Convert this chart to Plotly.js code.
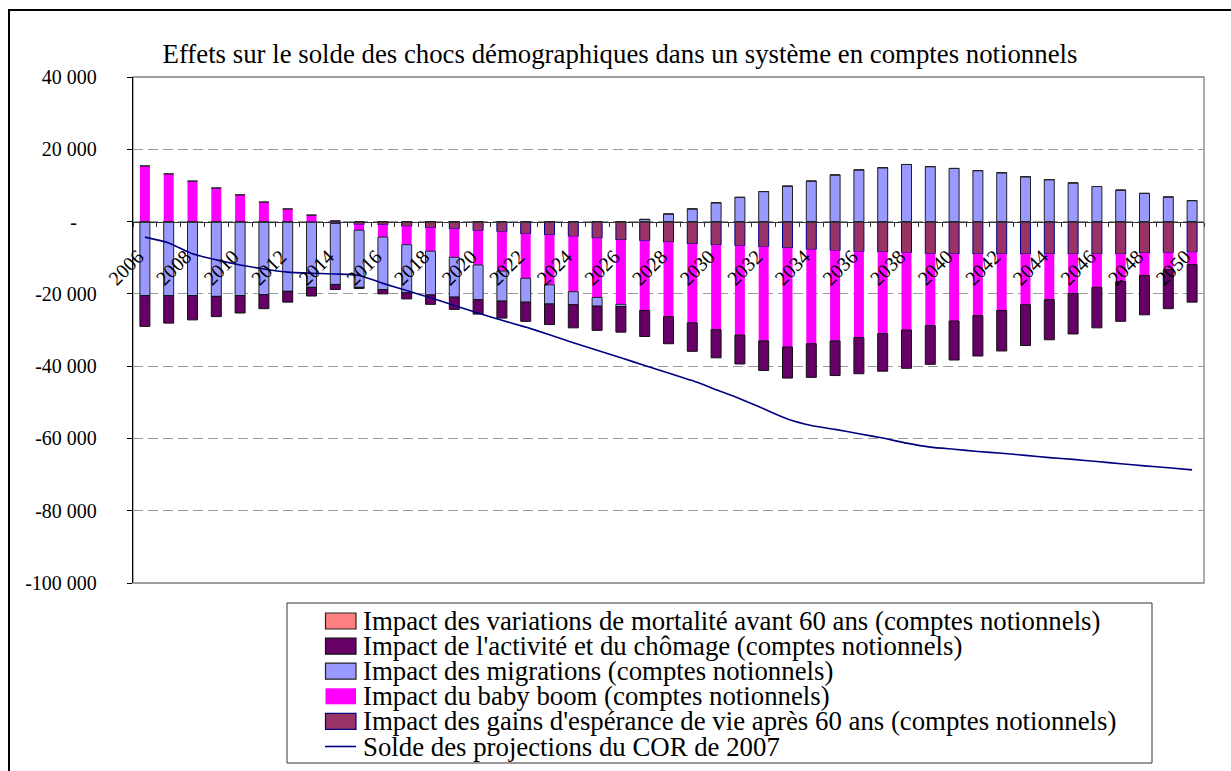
<!DOCTYPE html>
<html><head><meta charset="utf-8">
<script src="https://cdn.plot.ly/plotly-3.0.1.min.js"></script>
<style>
html,body{margin:0;padding:0;background:#fff;}
#wrap{position:relative;width:1231px;height:771px;overflow:hidden;}
#chart{position:absolute;left:0;top:0;width:1231px;height:771px;}
#frame{position:absolute;left:8px;top:9px;width:1260px;height:800px;border-left:2px solid #000;border-top:2px solid #000;pointer-events:none;}
</style></head><body>
<div id="wrap"><div id="chart"></div><div id="frame"></div></div>
<script>
// ---- DATA ----
const years = ['2006','2007','2008','2009','2010','2011','2012','2013','2014','2015',
  '2016','2017','2018','2019','2020','2021','2022','2023','2024','2025',
  '2026','2027','2028','2029','2030','2031','2032','2033','2034','2035',
  '2036','2037','2038','2039','2040','2041','2042','2043','2044','2045',
  '2046','2047','2048','2049','2050'];

const gains = [0,0,0,0,0,0,0,-200,-500,-800,
  -900,-1300,-1700,-2000,-2500,-2800,-3400,-3700,-4100,-4600,
  -5100,-5300,-5700,-6200,-6500,-6700,-7000,-7300,-7700,-8000,
  -8300,-8400,-8600,-8900,-9000,-9000,-9000,-9000,-9000,-9000,
  -9000,-9000,-8700,-8600,-8500];

const babyBoom = [15400,13200,11200,9300,7400,5400,3500,1800,200,-1600,
  -3400,-5100,-6500,-7900,-9500,-10900,-12300,-13800,-15300,-16400,
  -17800,-19300,-20600,-21800,-23400,-24700,-26000,-27400,-26100,-25000,
  -23800,-22600,-21400,-19900,-18500,-17000,-15600,-14000,-12600,-10900,
  -9200,-7600,-6200,-4700,-3400];

const migrations = [-20500,-20500,-20500,-20700,-20500,-20200,-19300,-18000,-16900,-15800,
  -14500,-13300,-12100,-11000,-9600,-8300,-6600,-5300,-3600,-2400,
  -600,600,2100,3500,5200,6700,8300,9800,11200,12900,
  14300,14900,15800,15200,14700,14100,13500,12400,11600,10700,
  9700,8700,7800,6800,5800];

const activite = [-8500,-7600,-6700,-5600,-4800,-3900,-3000,-2400,-1400,-300,
  -1200,-1700,-2600,-3400,-4000,-4700,-5300,-5700,-6400,-6700,
  -7100,-7200,-7500,-7900,-7800,-8000,-8200,-8600,-9300,-9600,
  -10000,-10400,-10600,-10700,-10800,-11200,-11200,-11300,-11100,-11200,
  -11200,-11000,-10900,-10800,-10400];

const mortalite = [0,0,0,0,0,0,0,0,0,0,
  0,0,0,0,0,0,0,0,0,0,
  0,0,0,0,0,0,0,0,0,0,
  0,0,0,0,0,0,0,0,0,0,
  0,0,0,0,0];

const solde = [-4300,-5900,-8900,-10600,-12000,-13100,-14000,-14300,-14500,-14900,
  -17100,-19100,-21100,-23200,-25300,-27300,-29200,-31300,-33500,-35600,
  -37700,-39800,-41900,-44000,-46500,-49000,-51800,-54600,-56400,-57500,
  -58700,-59900,-61300,-62400,-63000,-63600,-64100,-64700,-65300,-65800,
  -66400,-67000,-67600,-68100,-68700];

const yTickVals = [-100000,-80000,-60000,-40000,-20000,0,20000,40000];
const yTickText = ['-100 000','-80 000','-60 000','-40 000','-20 000','-\u00a0\u00a0\u00a0\u00a0','20 000','40 000'];
const xTickText = years.map((y,i) => (i % 2 === 0 ? y : ''));

const titleText = 'Effets sur le solde des chocs démographiques dans un système en comptes notionnels';
const names = {
  mortalite: 'Impact des variations de mortalité avant 60 ans (comptes notionnels)',
  activite: "Impact de l'activité et du chômage (comptes notionnels)",
  migrations: 'Impact des migrations (comptes notionnels)',
  babyBoom: 'Impact du baby boom (comptes notionnels)',
  gains: "Impact des gains d'espérance de vie après 60 ans (comptes notionnels)",
  solde: 'Solde des projections du COR de 2007'
};

// ---- STYLE ----
const FONT = "'Liberation Serif', 'Times New Roman', Times, serif";
const colors = {
  mortalite: {fill:'#FF8080', line:'#222222', lw:1},
  activite: {fill:'#660066', line:'#111111', lw:1},
  migrations: {fill:'#9999FF', line:'#222222', lw:1},
  babyBoom: {fill:'#FF00FF', line:'#FF00FF', lw:0},
  gains: {fill:'#993366', line:'#000080', lw:1},
  solde: {line:'#000080'}
};

function barTrace(key, vals){
  return {type:'bar', name:names[key], x:years, y:vals, showlegend:false,
    marker:{color:colors[key].fill, line:{color:colors[key].line, width:colors[key].lw}}};
}

const traces = [
  barTrace('gains', gains),
  barTrace('babyBoom', babyBoom),
  barTrace('migrations', migrations),
  barTrace('activite', activite),
  barTrace('mortalite', mortalite),
  {type:'scatter', mode:'lines', name:names.solde, x:years, y:solde, showlegend:false,
   line:{color:colors.solde.line, width:1.6, shape:'spline', smoothing:0.6}}
];

// pixel geometry of plot area
const W=1231, H=771, PL=133, PR=1204, PT=77, PB=583;
const yMin=-100000, yMax=40000;
const px2x = p => (p-PL)/(PR-PL);
const px2y = p => (PB-p)/(PB-PT);

// custom legend (tight Excel-like spacing)
const legendOrder = ['mortalite','activite','migrations','babyBoom','gains','solde'];
const shapes = [
  {type:'rect', xref:'paper', yref:'paper', x0:0, x1:1, y0:0, y1:1, line:{color:'#808080', width:1.3}, layer:'below'},
  {type:'rect', xref:'paper', yref:'paper', x0:px2x(287), x1:px2x(1152), y0:px2y(603), y1:px2y(763),
   line:{color:'#333333', width:1}, fillcolor:'rgba(0,0,0,0)'}
];
const annotations = [];
legendOrder.forEach((k,i)=>{
  const cy = 621 + i*25.1;
  if(k==='solde'){
    shapes.push({type:'line', xref:'paper', yref:'paper', x0:px2x(325), x1:px2x(356), y0:px2y(cy), y1:px2y(cy),
      line:{color:colors.solde.line, width:1.6}});
  } else {
    shapes.push({type:'rect', xref:'paper', yref:'paper', x0:px2x(325.5), x1:px2x(356), y0:px2y(cy-8), y1:px2y(cy+8),
      fillcolor:colors[k].fill, line:{color:colors[k].lw? colors[k].line : colors[k].fill, width:colors[k].lw?1.2:0}});
  }
  annotations.push({xref:'paper', yref:'paper', x:px2x(361), y:px2y(cy), xanchor:'left', yanchor:'middle',
    text:names[k], showarrow:false, font:{family:FONT, size:26.8, color:'#000'}});
});

const layout = {
  width:W, height:H,
  margin:{l:PL, r:W-PR, t:PT, b:H-PB, pad:0},
  paper_bgcolor:'#fff', plot_bgcolor:'#fff',
  font:{family:FONT, color:'#000', size:20},
  title:{text:titleText, font:{family:FONT, size:26.8, color:'#000'},
    x:620/W, xanchor:'center', xref:'container', y:1-54/H, yanchor:'middle', yref:'container'},
  barmode:'relative', bargap:0.58,
  showlegend:false,
  xaxis:{type:'category', range:[-0.5, years.length-0.5], anchor:'free',
    position:(0-yMin)/(yMax-yMin),
    showline:true, linecolor:'#333333', linewidth:1.6,
    showgrid:false, zeroline:false,
    tickmode:'array', tickvals:years, ticktext:xTickText, tickangle:-45,
    ticks:'outside', tickson:'boundaries', ticklen:4, tickcolor:'#333', tickwidth:1,
    tickfont:{family:FONT, size:20, color:'#000'},
    ticklabelstandoff:14, ticklabelshift:-7,
    layer:'above traces', fixedrange:true},
  yaxis:{range:[yMin, yMax], tickmode:'array', tickvals:yTickVals, ticktext:yTickText,
    showline:true, linecolor:'#000', linewidth:1.2,
    ticks:'outside', ticklen:5, tickcolor:'#000',
    showgrid:true, gridcolor:'#9a9a9a', gridwidth:1, griddash:'10px,5px',
    zeroline:false,
    tickfont:{family:FONT, size:20, color:'#000'},
    ticklabelstandoff:26, fixedrange:true},
  shapes:shapes,
  annotations:annotations
};

Plotly.newPlot('chart', traces, layout, {displayModeBar:false, staticPlot:true});
</script>
</body></html>
